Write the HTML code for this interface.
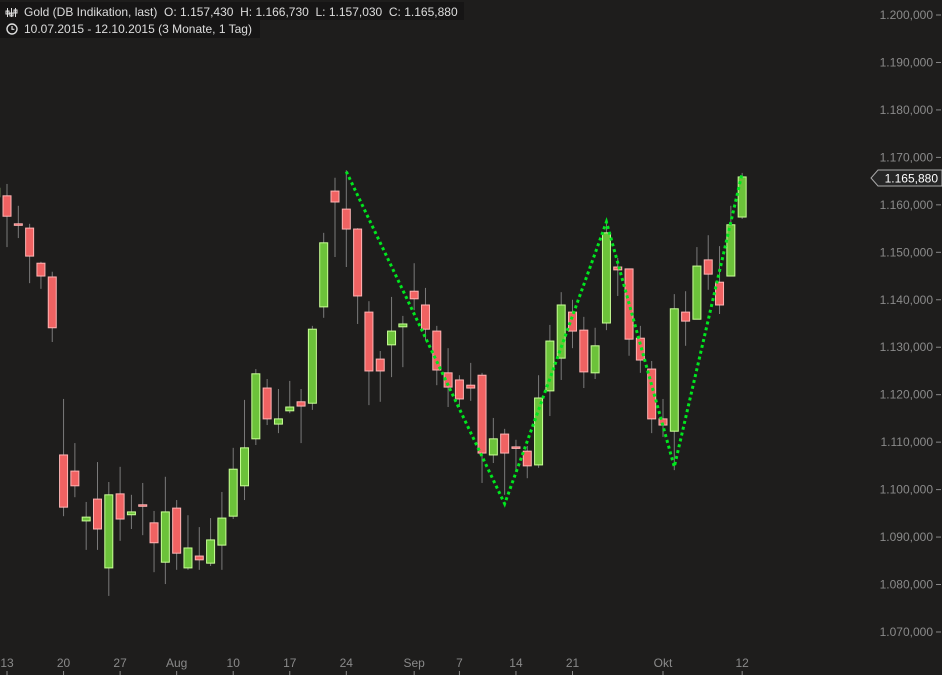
<!DOCTYPE html>
<html><head><meta charset="utf-8"><style>
html,body{margin:0;padding:0;background:#1e1d1c;overflow:hidden}
svg{display:block;font-family:"Liberation Sans",sans-serif}
</style></head><body>
<svg id="chart" width="942" height="675" viewBox="0 0 942 675">
<rect x="0" y="0" width="942" height="675" fill="#1e1d1c"/>
<g id="candles"></g>
<polyline id="zigzag" fill="none" stroke="#00e61e" stroke-width="3" stroke-dasharray="3,3"/>
<g id="yaxis"></g>
<g id="xaxis"></g>
<g>
<rect x="0" y="2" width="464" height="18" fill="#161515"/>
<rect x="0" y="20" width="260" height="18" fill="#161515"/>
<g stroke="#ddd" stroke-width="1" fill="none">
<line x1="7.5" y1="8" x2="7.5" y2="17"/><line x1="11.5" y1="8" x2="11.5" y2="17"/><line x1="15.5" y1="8" x2="15.5" y2="17"/>
<rect x="6" y="11" width="3" height="3"/><rect x="10" y="13" width="3" height="3"/><rect x="14" y="10" width="3" height="3"/>
</g>
<text x="24" y="16" font-size="12" fill="#ddd" style="white-space:pre" xml:space="preserve">Gold (DB Indikation, last)  O: 1.157,430  H: 1.166,730  L: 1.157,030  C: 1.165,880</text>
<g><circle cx="12" cy="29" r="5" stroke="#ddd" stroke-width="1.4" fill="none"/><path d="M12 26v3.3h2.4" stroke="#ddd" stroke-width="1.2" fill="none"/></g>
<text x="24" y="33" font-size="12" fill="#ddd">10.07.2015 - 12.10.2015 (3 Monate, 1 Tag)</text>
</g>
<g>
<path d="M878 170H942V186H878L871 178Z" fill="#262626" stroke="#aaa" stroke-width="1"/>
<text x="938" y="182.5" font-size="12" fill="#fff" text-anchor="end">1.165,880</text>
</g>
</svg>
<script>
// candles: open, high, low, close (price x 1000)
const opens  = [1161.7,1161.9,1156.0,1155.1,1147.7,1144.8,1107.3,1103.9,1093.4,1098.0,1083.5,1099.1,1094.7,1096.8,1093.0,1084.7,1096.1,1083.5,1086.0,1084.5,1088.3,1094.4,1100.8,1110.7,1121.4,1113.8,1116.6,1118.5,1118.2,1138.5,1162.9,1159.1,1154.9,1137.4,1127.5,1130.5,1134.3,1141.8,1138.9,1133.4,1124.6,1123.1,1122.0,1124.1,1107.3,1111.7,1109.0,1108.1,1105.2,1120.8,1127.7,1137.4,1133.6,1124.6,1135.1,1146.9,1146.5,1131.9,1125.4,1114.9,1112.3,1137.4,1135.9,1148.4,1143.7,1145.0,1157.43];
const highs  = [1164.4,1164.4,1159.8,1156.0,1148.0,1145.9,1119.1,1109.8,1097.4,1105.8,1101.6,1104.8,1098.9,1101.4,1095.5,1102.7,1097.8,1094.6,1092.1,1094.0,1099.5,1108.8,1118.9,1125.4,1123.3,1121.2,1122.9,1121.2,1134.5,1154.1,1165.7,1167.3,1155.1,1139.7,1129.2,1140.6,1136.6,1147.7,1142.5,1134.5,1129.8,1124.1,1126.7,1124.6,1115.1,1112.8,1110.5,1109.2,1124.1,1134.7,1141.6,1140.0,1136.4,1134.1,1156.4,1148.8,1146.5,1134.5,1127.1,1119.1,1141.2,1141.8,1151.1,1153.6,1151.3,1159.8,1166.73];
const lows   = [1161.0,1151.1,1153.0,1143.5,1142.3,1131.1,1094.4,1098.4,1087.3,1087.3,1077.6,1089.2,1091.7,1090.4,1082.6,1080.1,1083.1,1083.1,1083.1,1083.9,1083.1,1093.8,1097.8,1109.4,1113.6,1111.9,1116.1,1109.8,1116.8,1136.2,1149.0,1146.9,1134.9,1117.8,1118.5,1123.7,1125.8,1137.8,1131.5,1122.0,1117.4,1117.4,1118.7,1101.4,1105.6,1098.9,1103.7,1102.4,1104.6,1115.5,1123.1,1129.8,1121.4,1123.3,1133.6,1140.8,1128.2,1124.6,1111.9,1111.1,1104.1,1130.3,1135.9,1142.1,1137.0,1145.0,1157.03];
const closes = [1163.5,1157.6,1155.9,1149.2,1145.0,1134.1,1096.3,1100.8,1094.2,1091.7,1098.9,1093.8,1095.3,1096.7,1088.8,1095.3,1086.6,1087.7,1085.2,1089.4,1094.0,1104.3,1108.8,1124.4,1114.9,1114.9,1117.4,1117.6,1133.8,1152.0,1160.6,1154.9,1140.8,1125.0,1125.0,1133.4,1134.9,1140.2,1133.8,1125.2,1121.6,1119.1,1121.4,1107.7,1110.7,1107.7,1108.9,1105.0,1119.3,1131.3,1138.9,1133.4,1124.8,1130.3,1154.1,1146.3,1131.7,1127.3,1114.9,1113.6,1138.1,1135.5,1147.1,1145.4,1138.9,1155.8,1165.88];
const zigIdx = [31,45,54,60,66];
const zigVal = [1167.0,1097.0,1156.4,1104.8,1166.7];
const yTicks = [1070,1080,1090,1100,1110,1120,1130,1140,1150,1160,1170,1180,1190,1200];
const yTickLabels = ["1.070,000","1.080,000","1.090,000","1.100,000","1.110,000","1.120,000","1.130,000","1.140,000","1.150,000","1.160,000","1.170,000","1.180,000","1.190,000","1.200,000"];
const xTickIdx = [1,6,11,16,21,26,31,37,41,46,51,59,66];
const xTickLabels = ["13","20","27","Aug","10","17","24","Sep","7","14","21","Okt","12"];

const NS="http://www.w3.org/2000/svg";
function xs(i){return -4.3+i*11.31;}
function ys(v){return 15+(1200-v)*4.746;}
function mk(tag,attrs,parent){const e=document.createElementNS(NS,tag);for(const k in attrs)e.setAttribute(k,attrs[k]);parent.appendChild(e);return e;}

const cg=document.getElementById('candles');
for(let i=0;i<opens.length;i++){
  const x=xs(i), up=closes[i]>=opens[i];
  const g=mk('g',{},cg);
  
  
  const w=mk('line',{x1:x,x2:x,y1:ys(highs[i]),y2:ys(lows[i]),stroke:'#7a7a7a','stroke-width':1},g);
  
  
  const t=ys(Math.max(opens[i],closes[i])), b=ys(Math.min(opens[i],closes[i]));
  const h=Math.max(b-t,1.5);
  const r=mk('rect',{x:x-4,y:t,width:8,height:h,fill:up?'#6cc23a':'#f06262',stroke:up?'#c8ff96':'#ffb4b4','stroke-width':1},g);
  
  
}
document.getElementById('zigzag').setAttribute('points',zigIdx.map((d,k)=>xs(d)+','+ys(zigVal[k])).join(' '));

const ya=document.getElementById('yaxis');
yTicks.forEach((v,k)=>{
  const y=ys(v);
  if(y<170||y>186){
    const t=mk('text',{x:933,y:y+4,'font-size':12,fill:'#8a8a8a','text-anchor':'end'},ya);
    t.textContent=yTickLabels[k];
    
    
  }
  const l=mk('line',{x1:936,x2:941,y1:y,y2:y,stroke:'#8a8a8a'},ya);
  
  
});
const xa=document.getElementById('xaxis');
xTickIdx.forEach((d,k)=>{
  const x=xs(d);
  const t=mk('text',{x:x,y:667,'font-size':12,fill:'#8a8a8a','text-anchor':'middle'},xa);
  t.textContent=xTickLabels[k];
  
  
  const l=mk('line',{x1:x,x2:x,y1:671,y2:675,stroke:'#8a8a8a'},xa);
  
  
});
</script>
</body></html>
